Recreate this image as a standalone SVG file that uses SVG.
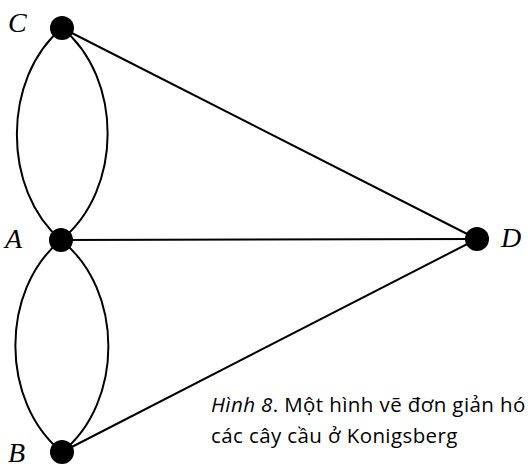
<svg xmlns="http://www.w3.org/2000/svg" width="528" height="468" viewBox="0 0 528 468">
<style>
.e{fill:none;stroke:#000;stroke-width:2}
.n{fill:#000}
.l{font-family:"Liberation Serif",serif;font-style:italic;font-size:28px;fill:#000}
.c{font-family:"Open Sans","Noto Sans",sans-serif;font-size:20.5px;letter-spacing:0.4px;fill:#000}
</style>
<rect width="528" height="468" fill="#fff"/>
<g id="connectors">
<path class="e" d="M62,28 C2,78 2,190 61,240"/>
<path class="e" d="M62,28 C123,78 123,190 61,240"/>
<path class="e" d="M61,240 C0,290 0,402 62,452"/>
<path class="e" d="M61,240 C124,290 124,402 62,452"/>
<path class="e" d="M62,28 L477,239"/>
<path class="e" d="M61,240 L477,239"/>
<path class="e" d="M62,452 L477,239"/>
</g>
<g id="C"><circle class="n" cx="62" cy="28" r="12"/><text class="l" x="8" y="32">C</text></g>
<g id="A"><circle class="n" cx="61" cy="240" r="12"/><text class="l" x="5" y="248">A</text></g>
<g id="B"><circle class="n" cx="62" cy="452" r="12"/><text class="l" x="8" y="462">B</text></g>
<g id="D"><circle class="n" cx="477" cy="239" r="12"/><text class="l" x="501" y="247">D</text></g>
<g id="caption">
<text class="c" x="211" y="412"><tspan font-style="italic">Hình 8</tspan>. Một hình vẽ đơn giản hó</text>
<text class="c" x="211" y="443">các cây cầu ở Konigsberg</text>
</g>
</svg>
